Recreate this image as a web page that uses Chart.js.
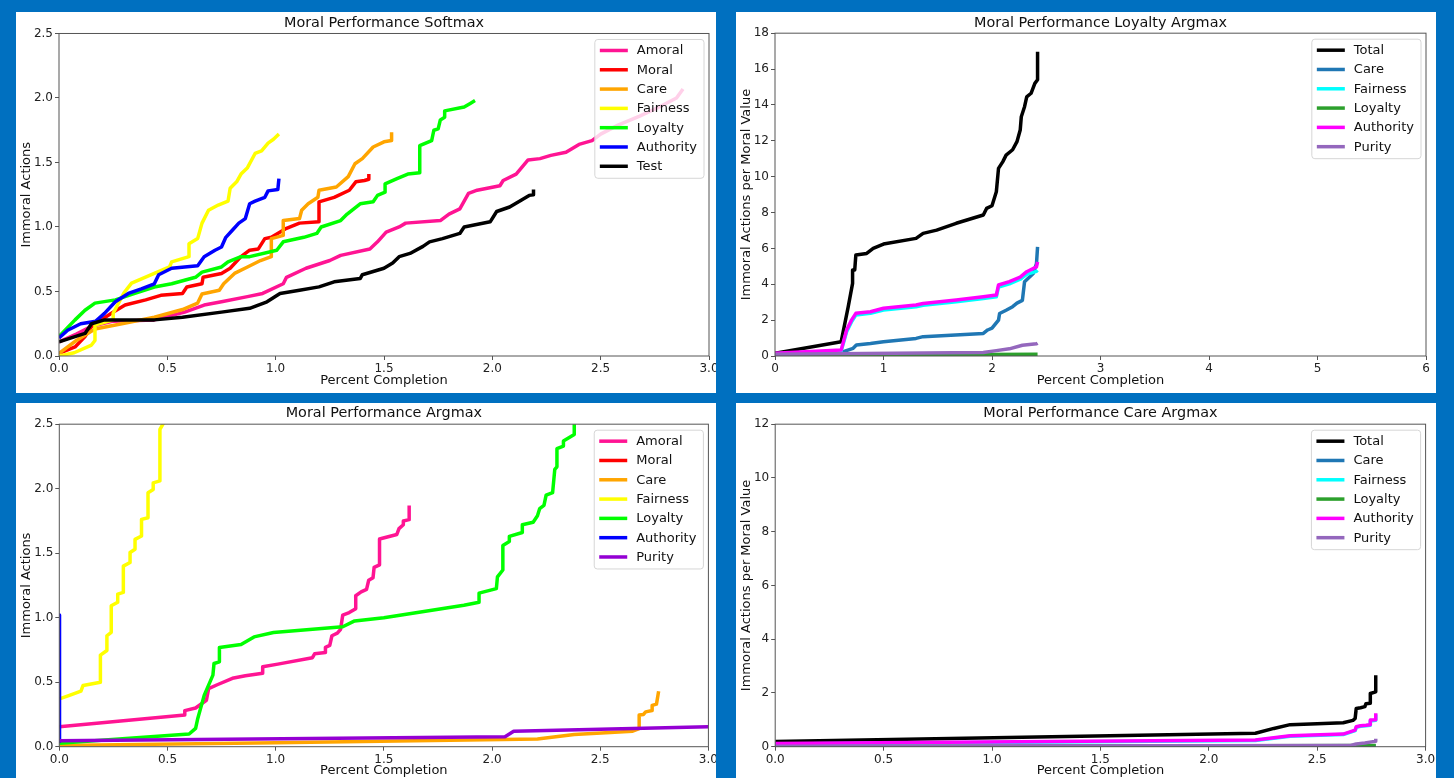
<!DOCTYPE html>
<html><head><meta charset="utf-8">
<script src="https://cdn.jsdelivr.net/npm/chart.js@4/dist/chart.umd.min.js"></script>
<style>
html,body{margin:0;padding:0;background:#0070C0;width:1454px;height:778px;overflow:hidden;}
.panel{position:absolute;background:#fff;overflow:hidden;}
.panel canvas{position:absolute;left:0;top:0;}
</style></head><body>
<div class="panel" style="left:16px;top:12px;width:700px;height:381px"><canvas id="c1" width="760" height="381"></canvas></div>
<div class="panel" style="left:736px;top:12px;width:700px;height:381px"><canvas id="c2" width="750" height="381"></canvas></div>
<div class="panel" style="left:16px;top:403px;width:700px;height:375px"><canvas id="c3" width="760" height="375"></canvas></div>
<div class="panel" style="left:736px;top:403px;width:700px;height:375px"><canvas id="c4" width="750" height="375"></canvas></div>
<script>
// ---------- Panel 1: Moral Performance Softmax ----------
const softLabels = ['Amoral','Moral','Care','Fairness','Loyalty','Authority','Test'];
const softAmoralX = [0,0.08,0.15,0.25,0.44,0.58,0.67,0.75,0.87,0.94,1.035,1.05,1.14,1.25,1.30,1.435,1.47,1.51,1.57,1.60,1.76,1.80,1.85,1.89,1.93,2.035,2.05,2.11,2.165,2.22,2.27,2.34,2.40,2.46,2.50,2.58,2.68,2.77,2.85,2.88];
const softAmoralY = [0.11,0.17,0.23,0.27,0.28,0.34,0.395,0.42,0.46,0.485,0.56,0.61,0.68,0.74,0.78,0.83,0.885,0.96,1.0,1.03,1.05,1.10,1.14,1.26,1.285,1.32,1.36,1.41,1.52,1.53,1.555,1.58,1.64,1.67,1.72,1.79,1.86,1.93,2.0,2.07];
const softMoralX = [0,0.074,0.12,0.15,0.24,0.305,0.40,0.47,0.57,0.59,0.66,0.665,0.75,0.79,0.84,0.88,0.92,0.95,0.98,1.05,1.11,1.20,1.20,1.27,1.34,1.37,1.41,1.43,1.43];
const softMoralY = [0.02,0.07,0.15,0.23,0.33,0.395,0.435,0.47,0.485,0.535,0.56,0.61,0.64,0.68,0.77,0.82,0.83,0.91,0.92,0.99,1.03,1.04,1.195,1.23,1.285,1.35,1.36,1.37,1.41];
const softCareX = [0,0.08,0.166,0.29,0.44,0.57,0.64,0.66,0.74,0.76,0.81,0.87,0.93,0.98,0.98,1.035,1.035,1.11,1.12,1.15,1.195,1.20,1.28,1.335,1.366,1.40,1.45,1.50,1.535,1.535];
const softCareY = [0.02,0.12,0.21,0.25,0.30,0.36,0.41,0.48,0.51,0.56,0.64,0.69,0.74,0.77,0.91,0.935,1.05,1.065,1.13,1.18,1.23,1.285,1.31,1.39,1.49,1.53,1.62,1.66,1.67,1.735];
const softFairX = [0,0.07,0.15,0.166,0.166,0.25,0.25,0.30,0.335,0.44,0.51,0.52,0.60,0.60,0.64,0.66,0.69,0.735,0.78,0.79,0.82,0.84,0.87,0.905,0.935,0.965,0.99,1.015];
const softFairY = [0,0.025,0.085,0.12,0.24,0.28,0.33,0.49,0.565,0.64,0.69,0.73,0.77,0.87,0.91,1.03,1.13,1.17,1.2,1.30,1.35,1.41,1.46,1.57,1.59,1.65,1.68,1.72];
const softLoyX = [0,0.074,0.12,0.166,0.26,0.35,0.44,0.52,0.63,0.66,0.75,0.78,0.84,0.88,1.005,1.035,1.13,1.19,1.21,1.30,1.33,1.39,1.45,1.47,1.505,1.505,1.56,1.61,1.665,1.665,1.72,1.73,1.75,1.76,1.78,1.78,1.87,1.90,1.92];
const softLoyY = [0.15,0.28,0.355,0.41,0.435,0.485,0.535,0.56,0.61,0.65,0.69,0.73,0.77,0.77,0.82,0.885,0.92,0.95,1.0,1.05,1.10,1.18,1.195,1.245,1.27,1.335,1.375,1.41,1.42,1.63,1.67,1.75,1.76,1.83,1.85,1.90,1.93,1.96,1.98];
const softAuthX = [0,0.04,0.10,0.17,0.21,0.26,0.32,0.38,0.44,0.46,0.52,0.64,0.67,0.72,0.75,0.77,0.80,0.83,0.86,0.88,0.905,0.95,0.965,1.01,1.015];
const softAuthY = [0.14,0.20,0.25,0.27,0.33,0.42,0.485,0.52,0.56,0.63,0.68,0.70,0.77,0.82,0.845,0.92,0.975,1.03,1.065,1.18,1.20,1.23,1.28,1.29,1.375];
const softTestX = [0,0.074,0.12,0.15,0.21,0.44,0.57,0.75,0.88,0.96,1.02,1.11,1.20,1.27,1.39,1.40,1.50,1.54,1.57,1.62,1.68,1.71,1.77,1.85,1.87,1.99,2.02,2.08,2.135,2.17,2.19,2.19];
const softTestY = [0.11,0.15,0.175,0.25,0.28,0.28,0.30,0.34,0.37,0.42,0.485,0.51,0.536,0.575,0.60,0.63,0.68,0.72,0.77,0.795,0.85,0.885,0.91,0.95,1.0,1.04,1.12,1.155,1.21,1.245,1.25,1.29];
const softXTicks = [0,0.5,1,1.5,2,2.5,3];
const softYTicks = [0,0.5,1,1.5,2,2.5];

// ---------- Panel 2: Moral Performance Loyalty Argmax ----------
const loyLabels = ['Total','Care','Fairness','Loyalty','Authority','Purity'];
const loyTotalX = [0,0.61,0.675,0.715,0.715,0.735,0.745,0.845,0.905,1.0,1.30,1.365,1.49,1.67,1.92,1.95,2.0,2.04,2.06,2.10,2.13,2.19,2.23,2.26,2.27,2.30,2.32,2.36,2.395,2.42,2.42];
const loyTotalY = [0.15,0.8,2.75,4.05,4.8,4.8,5.63,5.72,6.0,6.24,6.56,6.84,7.02,7.4,7.86,8.23,8.38,9.16,10.46,10.84,11.2,11.5,11.95,12.6,13.34,13.9,14.45,14.65,15.2,15.4,16.96];
const loyCareX = [0,0.61,0.72,0.75,0.88,1.0,1.30,1.365,1.92,1.96,2.0,2.06,2.07,2.13,2.19,2.23,2.28,2.30,2.38,2.41,2.42];
const loyCareY = [0.1,0.2,0.43,0.61,0.7,0.8,0.98,1.08,1.26,1.45,1.55,2.0,2.37,2.55,2.75,2.95,3.1,4.14,4.6,5.15,6.08];
const loyFairX = [0,0.61,0.66,0.705,0.745,0.88,1.0,1.30,1.365,1.67,1.92,2.04,2.06,2.16,2.26,2.32,2.41,2.42];
const loyFairY = [0.12,0.28,1.35,1.9,2.28,2.38,2.56,2.74,2.83,3.02,3.2,3.3,3.84,4.02,4.28,4.55,4.72,4.78];
const loyLoyX = [0,2.42];
const loyLoyY = [0.03,0.1];
const loyAuthX = [0,0.61,0.66,0.705,0.745,0.88,1.0,1.30,1.365,1.67,1.92,2.04,2.06,2.16,2.26,2.32,2.41,2.42];
const loyAuthY = [0.15,0.33,1.45,2.0,2.38,2.47,2.66,2.84,2.93,3.12,3.3,3.4,3.96,4.15,4.4,4.7,4.97,5.25];
const loyPurX = [0,1.92,2.04,2.16,2.28,2.41,2.42];
const loyPurY = [0.1,0.2,0.3,0.4,0.6,0.68,0.72];
const loyXTicks = [0,1,2,3,4,5,6];
const loyYTicks = [0,2,4,6,8,10,12,14,16,18];

// ---------- Panel 3: Moral Performance Argmax ----------
const argLabels = ['Amoral','Moral','Care','Fairness','Loyalty','Authority','Purity'];
const argAmoralX = [0,0.58,0.58,0.63,0.68,0.69,0.73,0.80,0.86,0.94,0.94,1.01,1.17,1.18,1.23,1.23,1.25,1.26,1.285,1.30,1.31,1.34,1.37,1.37,1.395,1.42,1.43,1.45,1.455,1.48,1.48,1.56,1.57,1.59,1.59,1.617,1.617];
const argAmoralY = [0.155,0.245,0.28,0.30,0.36,0.45,0.48,0.53,0.55,0.57,0.62,0.64,0.69,0.72,0.73,0.77,0.785,0.86,0.88,0.91,1.02,1.04,1.07,1.17,1.20,1.22,1.29,1.31,1.39,1.41,1.61,1.645,1.69,1.72,1.75,1.76,1.87];
const argMoralX = [];
const argMoralY = [];
const argCareX = [0,1.0,2.21,2.38,2.65,2.68,2.68,2.70,2.71,2.74,2.74,2.76,2.77];
const argCareY = [0.01,0.03,0.06,0.095,0.12,0.14,0.245,0.25,0.27,0.28,0.32,0.33,0.43];
const argFairX = [0,0.05,0.10,0.11,0.19,0.19,0.22,0.22,0.24,0.24,0.27,0.27,0.296,0.296,0.327,0.327,0.35,0.35,0.38,0.38,0.41,0.41,0.434,0.434,0.465,0.465,0.50];
const argFairY = [0.37,0.40,0.43,0.475,0.50,0.71,0.746,0.86,0.887,1.093,1.12,1.183,1.196,1.40,1.428,1.505,1.531,1.607,1.633,1.762,1.775,1.968,1.994,2.045,2.06,2.46,2.56];
const argLoyX = [0,0.60,0.63,0.64,0.67,0.71,0.715,0.74,0.74,0.84,0.90,0.99,1.31,1.365,1.50,1.87,1.94,1.94,2.02,2.025,2.05,2.05,2.08,2.08,2.14,2.14,2.19,2.21,2.22,2.24,2.25,2.28,2.29,2.30,2.30,2.33,2.33,2.38,2.38,2.39];
const argLoyY = [0.026,0.098,0.142,0.219,0.40,0.555,0.645,0.658,0.769,0.792,0.851,0.885,0.93,0.975,1.0,1.096,1.12,1.19,1.225,1.316,1.37,1.56,1.59,1.63,1.66,1.72,1.74,1.79,1.845,1.87,1.95,1.97,2.15,2.17,2.31,2.33,2.37,2.42,2.5,2.6];
const argAuthX = [0,0.001];
const argAuthY = [1.02,0.04];
const argPurX = [0,2.06,2.10,3.0,3.1];
const argPurY = [0.046,0.077,0.12,0.155,0.157];
const argXTicks = [0,0.5,1,1.5,2,2.5,3];
const argYTicks = [0,0.5,1,1.5,2,2.5];

// ---------- Panel 4: Moral Performance Care Argmax ----------
const careLabels = ['Total','Care','Fairness','Loyalty','Authority','Purity'];
const careTotalX = [0,2.215,2.30,2.375,2.5,2.62,2.665,2.675,2.68,2.70,2.72,2.725,2.745,2.745,2.77,2.77];
const careTotalY = [0.19,0.5,0.68,0.82,0.85,0.89,0.98,1.05,1.42,1.45,1.49,1.6,1.62,1.98,2.04,2.66];
const careCareX = [0,2.77];
const careCareY = [0.0,0.03];
const careFairX = [0,2.215,2.375,2.62,2.675,2.68,2.70,2.725,2.745,2.745,2.77,2.77];
const careFairY = [0.1,0.23,0.39,0.45,0.6,0.72,0.76,0.78,0.8,0.96,0.98,1.2];
const careLoyX = [0,2.77];
const careLoyY = [0.0,0.04];
const careAuthX = [0,2.215,2.375,2.62,2.675,2.68,2.70,2.725,2.745,2.745,2.77,2.77];
const careAuthY = [0.12,0.25,0.41,0.47,0.62,0.74,0.78,0.8,0.82,0.99,1.0,1.24];
const carePurX = [0,2.65,2.68,2.72,2.75,2.77,2.77];
const carePurY = [0.02,0.04,0.1,0.14,0.18,0.2,0.3];
const careXTicks = [0,0.5,1,1.5,2,2.5,3];
const careYTicks = [0,2,4,6,8,10,12];

// ---------- helpers ----------
const FONT = '"DejaVu Sans", "Liberation Sans", sans-serif';
const pts = (xs, ys) => xs.map((x, i) => ({x: x, y: ys[i]}));

const framePlugin = {
  id: 'frameAndLegend',
  afterDatasetsDraw(chart) {
    const ctx = chart.ctx, ca = chart.chartArea;
    ctx.save();
    ctx.strokeStyle = '#555';
    ctx.lineWidth = 1;
    ctx.strokeRect(ca.left, ca.top, ca.right - ca.left, ca.bottom - ca.top);
    // legend (matplotlib style, upper right inside axes)
    const ds = chart.data.datasets;
    ctx.font = '13px ' + FONT;
    let maxW = 0;
    ds.forEach(d => { maxW = Math.max(maxW, ctx.measureText(d.label).width); });
    const rowH = 19.3, lineLen = 28, padL = 5, gap = 9, padR = 7;
    const w = padL + lineLen + gap + maxW + padR;
    const h = 11 + (ds.length - 1) * rowH + 12;
    const x = ca.right - 5 - w, y = ca.top + 6;
    ctx.beginPath();
    if (ctx.roundRect) ctx.roundRect(x, y, w, h, 3); else ctx.rect(x, y, w, h);
    ctx.fillStyle = 'rgba(255,255,255,0.8)';
    ctx.fill();
    ctx.strokeStyle = '#d6d6d6';
    ctx.stroke();
    ds.forEach((d, i) => {
      const cy = y + 11 + i * rowH;
      ctx.beginPath();
      ctx.strokeStyle = d.borderColor;
      ctx.lineWidth = 3.5;
      ctx.moveTo(x + padL, cy);
      ctx.lineTo(x + padL + lineLen, cy);
      ctx.stroke();
      ctx.fillStyle = '#111';
      ctx.textBaseline = 'middle';
      ctx.textAlign = 'left';
      ctx.fillText(d.label, x + padL + lineLen + gap, cy + 0.5);
    });
    ctx.restore();
  }
};

function makeChart(id, cfg) {
  const datasets = cfg.series.map((s, i) => ({
    label: s.label,
    data: pts(s.xs, s.ys),
    borderColor: s.color,
    backgroundColor: s.color,
    borderWidth: 3.5,
    pointRadius: 0,
    tension: 0,
    fill: false,
    borderJoinStyle: 'round',
    order: -i
  }));
  return new Chart(document.getElementById(id), {
    type: 'line',
    data: {datasets},
    plugins: [framePlugin],
    options: {
      responsive: false,
      animation: false,
      devicePixelRatio: 1,
      layout: {padding: {left: 0, right: cfg.padRight, top: 0, bottom: 0}},
      plugins: {
        legend: {display: false},
        tooltip: {enabled: false},
        title: {
          display: true, text: cfg.title, color: '#111',
          font: {family: FONT, size: 14.4, weight: 'normal'},
          padding: {top: cfg.titleTop, bottom: cfg.titleBottom}
        }
      },
      scales: {
        x: {
          type: 'linear', min: cfg.xTicks[0], max: cfg.xTicks[cfg.xTicks.length - 1],
          afterBuildTicks: s => { s.ticks = cfg.xTicks.map(v => ({value: v})); },
          afterFit: s => { s.height = cfg.xAxisH; },
          ticks: {
            color: '#222', font: {family: FONT, size: 12}, padding: 2,
            autoSkip: false, maxRotation: 0,
            callback: v => Number(v).toFixed(cfg.xDec)
          },
          grid: {display: true, drawOnChartArea: false, drawTicks: true, tickLength: 4, color: '#555'},
          border: {display: false},
          title: {
            display: true, text: 'Percent Completion', color: '#111',
            font: {family: FONT, size: 13}, padding: {top: 0, bottom: cfg.xTitleBottom}
          }
        },
        y: {
          type: 'linear', min: cfg.yTicks[0], max: cfg.yTicks[cfg.yTicks.length - 1],
          afterBuildTicks: s => { s.ticks = cfg.yTicks.map(v => ({value: v})); },
          afterFit: s => { s.width = cfg.yAxisW; },
          ticks: {
            color: '#222', font: {family: FONT, size: 12}, padding: 2,
            autoSkip: false,
            callback: v => Number(v).toFixed(cfg.yDec)
          },
          grid: {display: true, drawOnChartArea: false, drawTicks: true, tickLength: 4, color: '#555'},
          border: {display: false},
          title: {
            display: true, text: cfg.yTitle, color: '#111',
            font: {family: FONT, size: 13}, padding: {top: 3, bottom: 0}
          }
        },
        // empty spacer on the right so the title centres over the axes box
        ySpacer: {
          type: 'linear', position: 'right', min: 0, max: 1,
          afterFit: s => { s.width = cfg.yAxisW; },
          ticks: {display: false},
          grid: {display: false},
          border: {display: false}
        }
      }
    }
  });
}

makeChart('c1', {
  title: 'Moral Performance Softmax', yTitle: 'Immoral Actions',
  xTicks: softXTicks, yTicks: softYTicks, xDec: 1, yDec: 1,
  yAxisW: 43, xAxisH: 37, padRight: 24, titleTop: 3, titleBottom: 1.2, xTitleBottom: 5,
  series: [
    {label: softLabels[0], color: '#FF1493', xs: softAmoralX, ys: softAmoralY},
    {label: softLabels[1], color: '#FF0000', xs: softMoralX, ys: softMoralY},
    {label: softLabels[2], color: '#FFA500', xs: softCareX, ys: softCareY},
    {label: softLabels[3], color: '#FFFF00', xs: softFairX, ys: softFairY},
    {label: softLabels[4], color: '#00FF00', xs: softLoyX, ys: softLoyY},
    {label: softLabels[5], color: '#0000FF', xs: softAuthX, ys: softAuthY},
    {label: softLabels[6], color: '#000000', xs: softTestX, ys: softTestY}
  ]
});

makeChart('c2', {
  title: 'Moral Performance Loyalty Argmax', yTitle: 'Immoral Actions per Moral Value',
  xTicks: loyXTicks, yTicks: loyYTicks, xDec: 0, yDec: 0,
  yAxisW: 39, xAxisH: 37, padRight: 21, titleTop: 3, titleBottom: 0.9, xTitleBottom: 5,
  series: [
    {label: loyLabels[0], color: '#000000', xs: loyTotalX, ys: loyTotalY},
    {label: loyLabels[1], color: '#1f77b4', xs: loyCareX, ys: loyCareY},
    {label: loyLabels[2], color: '#00FFFF', xs: loyFairX, ys: loyFairY},
    {label: loyLabels[3], color: '#2ca02c', xs: loyLoyX, ys: loyLoyY},
    {label: loyLabels[4], color: '#FF00FF', xs: loyAuthX, ys: loyAuthY},
    {label: loyLabels[5], color: '#9467bd', xs: loyPurX, ys: loyPurY}
  ]
});

makeChart('c3', {
  title: 'Moral Performance Argmax', yTitle: 'Immoral Actions',
  xTicks: argXTicks, yTicks: argYTicks, xDec: 1, yDec: 1,
  yAxisW: 43.3, xAxisH: 31.3, padRight: 24.3, titleTop: 2, titleBottom: 1.9, xTitleBottom: 0,
  series: [
    {label: argLabels[0], color: '#FF1493', xs: argAmoralX, ys: argAmoralY},
    {label: argLabels[1], color: '#FF0000', xs: argMoralX, ys: argMoralY},
    {label: argLabels[2], color: '#FFA500', xs: argCareX, ys: argCareY},
    {label: argLabels[3], color: '#FFFF00', xs: argFairX, ys: argFairY},
    {label: argLabels[4], color: '#00FF00', xs: argLoyX, ys: argLoyY},
    {label: argLabels[5], color: '#0000FF', xs: argAuthX, ys: argAuthY},
    {label: argLabels[6], color: '#9400D3', xs: argPurX, ys: argPurY}
  ]
});

makeChart('c4', {
  title: 'Moral Performance Care Argmax', yTitle: 'Immoral Actions per Moral Value',
  xTicks: careXTicks, yTicks: careYTicks, xDec: 1, yDec: 0,
  yAxisW: 39.2, xAxisH: 31.3, padRight: 21.2, titleTop: 2, titleBottom: 1.9, xTitleBottom: 0,
  series: [
    {label: careLabels[0], color: '#000000', xs: careTotalX, ys: careTotalY},
    {label: careLabels[1], color: '#1f77b4', xs: careCareX, ys: careCareY},
    {label: careLabels[2], color: '#00FFFF', xs: careFairX, ys: careFairY},
    {label: careLabels[3], color: '#2ca02c', xs: careLoyX, ys: careLoyY},
    {label: careLabels[4], color: '#FF00FF', xs: careAuthX, ys: careAuthY},
    {label: careLabels[5], color: '#9467bd', xs: carePurX, ys: carePurY}
  ]
});
</script>
</body></html>
